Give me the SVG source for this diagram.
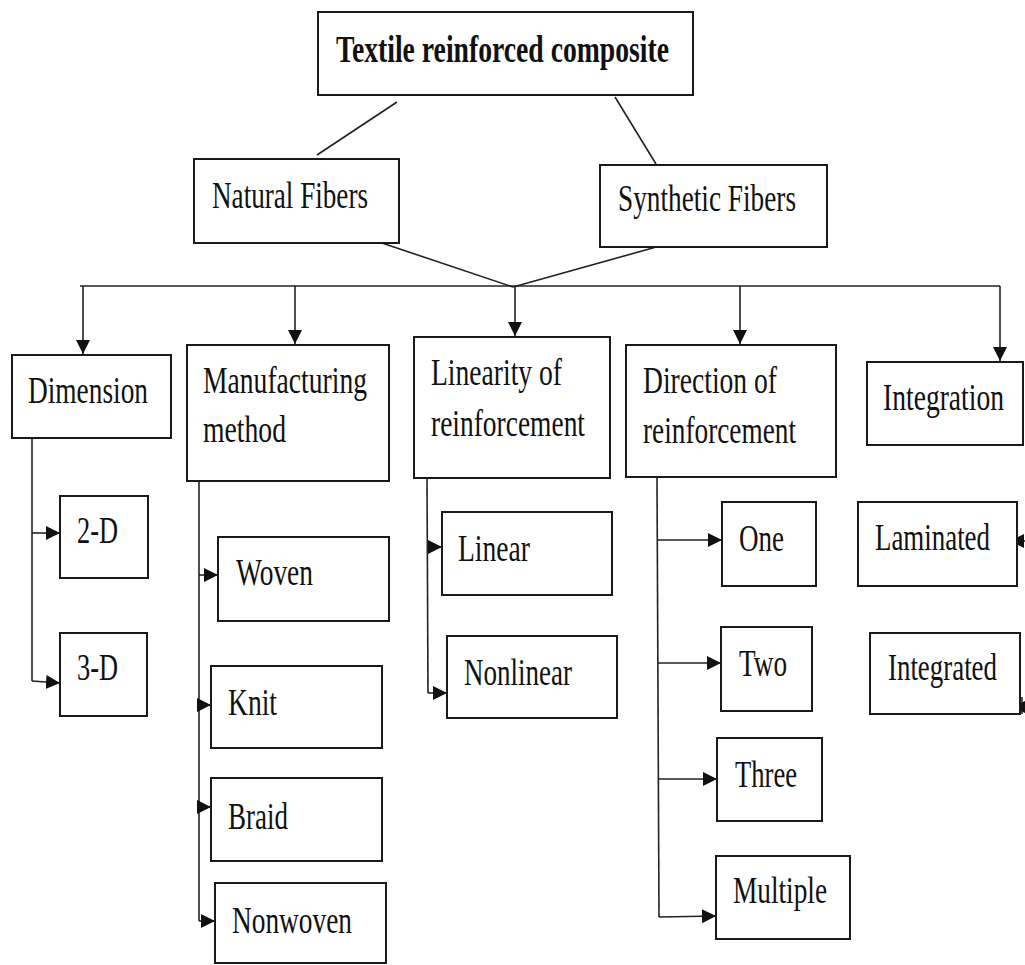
<svg xmlns="http://www.w3.org/2000/svg" width="1025" height="965" viewBox="0 0 1025 965">
<style>
.box{fill:#fff;stroke:#1a1a1a;stroke-width:2}
.t{font-family:"Liberation Serif","Times New Roman",serif;font-size:37px;fill:#111}
.b{font-weight:bold}
.c{fill:none;stroke:#222;stroke-width:1.6}
</style>
<defs>
<marker id="ah" markerUnits="userSpaceOnUse" markerWidth="16" markerHeight="16" viewBox="0 0 16 16" refX="14" refY="7" orient="auto">
<path d="M0,0 L14,7 L0,14 z" fill="#111"/>
</marker>
</defs>
<rect width="1025" height="965" fill="#fff"/>
<g id="connectors">
<line class="c" x1="397" y1="102" x2="317" y2="155"/>
<line class="c" x1="615" y1="97" x2="656" y2="164"/>
<line class="c" x1="373" y1="240" x2="513" y2="287"/>
<line class="c" x1="667" y1="244" x2="513" y2="287"/>
<line class="c" x1="80" y1="286" x2="1000" y2="286"/>
<line class="c" x1="83" y1="286" x2="83" y2="354" marker-end="url(#ah)"/>
<line class="c" x1="295" y1="286" x2="295" y2="344" marker-end="url(#ah)"/>
<line class="c" x1="515" y1="286" x2="515" y2="336" marker-end="url(#ah)"/>
<line class="c" x1="740" y1="286" x2="740" y2="344" marker-end="url(#ah)"/>
<line class="c" x1="1000" y1="286" x2="1000" y2="361" marker-end="url(#ah)"/>
<polyline class="c" points="32,438 32,681"/>
<line class="c" x1="32" y1="533" x2="60" y2="533" marker-end="url(#ah)"/>
<line class="c" x1="32" y1="681" x2="60" y2="683" marker-end="url(#ah)"/>
<polyline class="c" points="199,477 199,921"/>
<line class="c" x1="199" y1="575" x2="218" y2="575" marker-end="url(#ah)"/>
<line class="c" x1="199" y1="705" x2="211" y2="705" marker-end="url(#ah)"/>
<line class="c" x1="199" y1="807" x2="211" y2="807" marker-end="url(#ah)"/>
<line class="c" x1="199" y1="921" x2="215" y2="921" marker-end="url(#ah)"/>
<polyline class="c" points="427,478 428,693"/>
<line class="c" x1="427" y1="547" x2="442" y2="547" marker-end="url(#ah)"/>
<line class="c" x1="428" y1="693" x2="447" y2="693" marker-end="url(#ah)"/>
<polyline class="c" points="657,477 659,917"/>
<line class="c" x1="657" y1="540" x2="722" y2="540" marker-end="url(#ah)"/>
<line class="c" x1="658" y1="663" x2="721" y2="663" marker-end="url(#ah)"/>
<line class="c" x1="659" y1="779" x2="717" y2="779" marker-end="url(#ah)"/>
<line class="c" x1="659" y1="917" x2="716" y2="916" marker-end="url(#ah)"/>
<line class="c" x1="1026" y1="541" x2="1010" y2="541" marker-end="url(#ah)"/>
<line class="c" x1="1022" y1="697" x2="1022" y2="714"/>
<line class="c" x1="1026" y1="707" x2="1013" y2="707" marker-end="url(#ah)"/>
</g>
<g id="n-root"><rect class="box" x="318" y="12" width="375" height="83"/><text class="t b" transform="translate(336,62) scale(0.7,1)" textLength="475.7" lengthAdjust="spacingAndGlyphs">Textile reinforced composite</text></g>
<g id="n-natural"><rect class="box" x="194" y="159" width="205" height="84"/><text class="t" transform="translate(212,208) scale(0.7,1)" textLength="222.9" lengthAdjust="spacingAndGlyphs">Natural Fibers</text></g>
<g id="n-synthetic"><rect class="box" x="600" y="165" width="227" height="82"/><text class="t" transform="translate(618,211) scale(0.7,1)" textLength="254.3" lengthAdjust="spacingAndGlyphs">Synthetic Fibers</text></g>
<g id="n-dimension"><rect class="box" x="12" y="355" width="159" height="83"/><text class="t" transform="translate(28,403) scale(0.7,1)" textLength="171.4" lengthAdjust="spacingAndGlyphs">Dimension</text></g>
<g id="n-manufacturing"><rect class="box" x="187" y="345" width="202" height="136"/><text class="t" transform="translate(203,393) scale(0.7,1)" textLength="234.3" lengthAdjust="spacingAndGlyphs">Manufacturing</text><text class="t" transform="translate(203,442) scale(0.7,1)" textLength="118.6" lengthAdjust="spacingAndGlyphs">method</text></g>
<g id="n-linearity"><rect class="box" x="414" y="337" width="196" height="141"/><text class="t" transform="translate(431,385) scale(0.7,1)" textLength="187.1" lengthAdjust="spacingAndGlyphs">Linearity of</text><text class="t" transform="translate(431,436) scale(0.7,1)" textLength="220" lengthAdjust="spacingAndGlyphs">reinforcement</text></g>
<g id="n-direction"><rect class="box" x="626" y="345" width="210" height="132"/><text class="t" transform="translate(643,393) scale(0.7,1)" textLength="191.4" lengthAdjust="spacingAndGlyphs">Direction of</text><text class="t" transform="translate(643,443) scale(0.7,1)" textLength="218.6" lengthAdjust="spacingAndGlyphs">reinforcement</text></g>
<g id="n-integration"><rect class="box" x="867" y="362" width="156" height="83"/><text class="t" transform="translate(883,410) scale(0.7,1)" textLength="172.9" lengthAdjust="spacingAndGlyphs">Integration</text></g>
<g id="n-2d"><rect class="box" x="60" y="496" width="88" height="82"/><text class="t" transform="translate(77,543) scale(0.7,1)" textLength="58.6" lengthAdjust="spacingAndGlyphs">2-D</text></g>
<g id="n-3d"><rect class="box" x="60" y="633" width="87" height="83"/><text class="t" transform="translate(77,680) scale(0.7,1)" textLength="58.6" lengthAdjust="spacingAndGlyphs">3-D</text></g>
<g id="n-woven"><rect class="box" x="218" y="537" width="171" height="84"/><text class="t" transform="translate(236,585) scale(0.7,1)" textLength="110" lengthAdjust="spacingAndGlyphs">Woven</text></g>
<g id="n-knit"><rect class="box" x="211" y="666" width="171" height="82"/><text class="t" transform="translate(228,715) scale(0.7,1)" textLength="70" lengthAdjust="spacingAndGlyphs">Knit</text></g>
<g id="n-braid"><rect class="box" x="211" y="778" width="171" height="83"/><text class="t" transform="translate(228,829) scale(0.7,1)" textLength="85.7" lengthAdjust="spacingAndGlyphs">Braid</text></g>
<g id="n-nonwoven"><rect class="box" x="215" y="883" width="171" height="80"/><text class="t" transform="translate(232,933) scale(0.7,1)" textLength="171.4" lengthAdjust="spacingAndGlyphs">Nonwoven</text></g>
<g id="n-linear"><rect class="box" x="442" y="512" width="170" height="83"/><text class="t" transform="translate(458,561) scale(0.7,1)" textLength="102.9" lengthAdjust="spacingAndGlyphs">Linear</text></g>
<g id="n-nonlinear"><rect class="box" x="447" y="636" width="170" height="82"/><text class="t" transform="translate(464,685) scale(0.7,1)" textLength="154.3" lengthAdjust="spacingAndGlyphs">Nonlinear</text></g>
<g id="n-one"><rect class="box" x="722" y="502" width="94" height="84"/><text class="t" transform="translate(739,551) scale(0.7,1)" textLength="64.3" lengthAdjust="spacingAndGlyphs">One</text></g>
<g id="n-two"><rect class="box" x="721" y="627" width="91" height="84"/><text class="t" transform="translate(739,676) scale(0.7,1)" textLength="68.6" lengthAdjust="spacingAndGlyphs">Two</text></g>
<g id="n-three"><rect class="box" x="717" y="738" width="105" height="83"/><text class="t" transform="translate(735,787) scale(0.7,1)" textLength="88.6" lengthAdjust="spacingAndGlyphs">Three</text></g>
<g id="n-multiple"><rect class="box" x="716" y="856" width="134" height="83"/><text class="t" transform="translate(733,903) scale(0.7,1)" textLength="134.3" lengthAdjust="spacingAndGlyphs">Multiple</text></g>
<g id="n-laminated"><rect class="box" x="858" y="502" width="159" height="84"/><text class="t" transform="translate(875,550) scale(0.7,1)" textLength="164.3" lengthAdjust="spacingAndGlyphs">Laminated</text></g>
<g id="n-integrated"><rect class="box" x="870" y="633" width="150" height="81"/><text class="t" transform="translate(888,680) scale(0.7,1)" textLength="155.7" lengthAdjust="spacingAndGlyphs">Integrated</text></g>
</svg>
